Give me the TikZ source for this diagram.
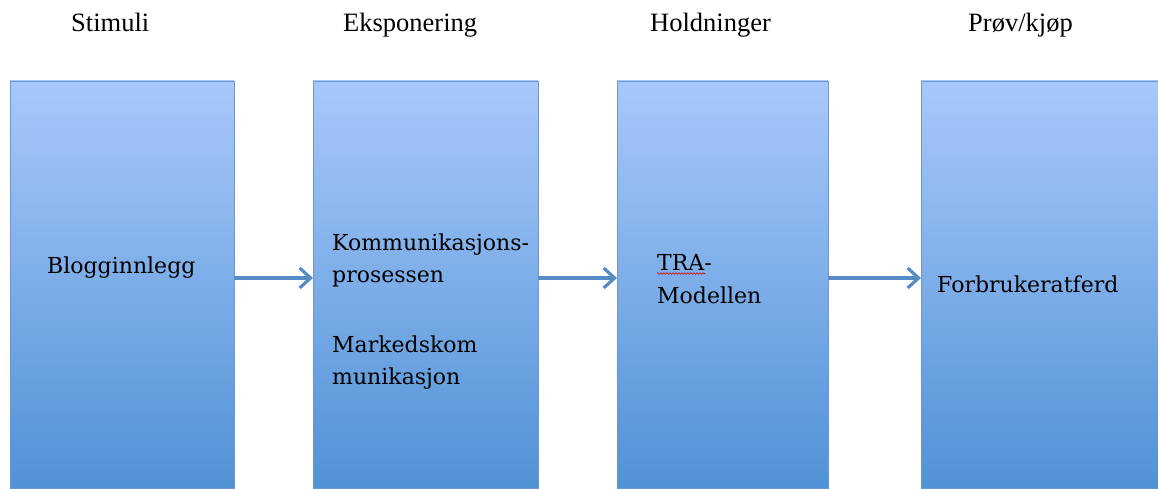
\documentclass[tikz,border=0pt]{standalone}
\usepackage{fontspec}
\setmainfont{Liberation Serif}
\newfontfamily\boxfont{DejaVu Serif}
\usetikzlibrary{arrows.meta,decorations.pathmorphing}
\definecolor{boxtop}{RGB}{168,200,250}
\definecolor{boxbottom}{RGB}{80,146,214}
\definecolor{boxline}{RGB}{108,150,208}
\definecolor{arrowblue}{RGB}{88,138,198}
\begin{document}
\begin{tikzpicture}[x=1pt,y=-1pt,
  stage/.style={draw=boxline, line width=0.8pt, top color=boxtop, bottom color=boxbottom,
    anchor=north west, inner sep=0pt, outer sep=0pt, minimum height=407pt},
  stagehead/.style={anchor=base west, inner sep=0pt, font=\fontsize{26.5}{30}\selectfont},
  boxtext/.style={anchor=base west, inner sep=0pt, font=\boxfont\fontsize{22}{32}\selectfont},
  flowarrow/.style={-{Straight Barb[length=11pt,width=20pt]}, line width=3.2pt, arrowblue}]
  \useasboundingbox (0,0) rectangle (1158,489);

  % boxes
  \node[stage, minimum width=224pt] (stim) at (10,81) {};
  \node[stage, minimum width=225pt] (expo) at (313,81) {};
  \node[stage, minimum width=211pt] (hold) at (617,81) {};
  \node[stage, minimum width=245pt] (buy) at (921,81) {};

  % headings
  \node[stagehead] (hstim) at (71,32) {Stimuli};
  \node[stagehead] (hexpo) at (343,32) {Eksponering};
  \node[stagehead] (hhold) at (650,32) {Holdninger};
  \node[stagehead] (hbuy) at (968,32) {Prøv/kjøp};

  % box texts, one node per line
  \node[boxtext] (blog) at (47,273) {Blogginnlegg};
  \node[boxtext] (komma) at (332,250) {Kommunikasjons-};
  \node[boxtext] (kommb) at (332,282) {prosessen};
  \node[boxtext] (marka) at (332,352) {Markedskom};
  \node[boxtext] (markb) at (332,384) {munikasjon};
  \node[boxtext] (tra) at (657,270) {TRA-};
  \node[boxtext] (model) at (657,303) {Modellen};
  \node[boxtext] (forb) at (937,292) {Forbrukeratferd};
  \draw[red!85!black, line width=0.6pt, decorate,
    decoration={snake, amplitude=0.8pt, segment length=3pt}]
    ([yshift=-3.5pt]tra.base west) -- ++(48,0);

  \draw[flowarrow] ([yshift=6.5pt]stim.east) -- ([yshift=6.5pt]expo.west);
  \draw[flowarrow] ([yshift=6.5pt]expo.east) -- ([yshift=6.5pt]hold.west);
  \draw[flowarrow] ([yshift=6.5pt]hold.east) -- ([yshift=6.5pt]buy.west);
\end{tikzpicture}
\end{document}
